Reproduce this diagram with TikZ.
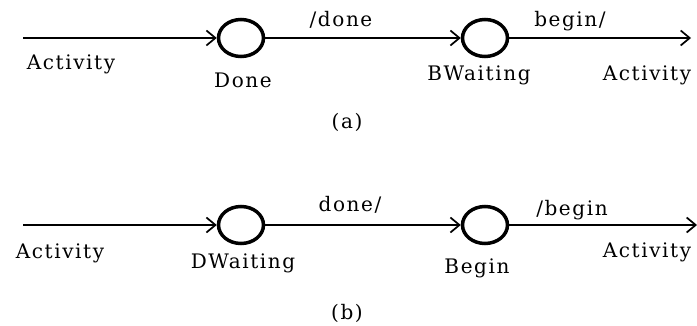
\documentclass[tikz,border=0pt]{standalone}
\usepackage{fontspec}
\setmainfont{DejaVu Serif}[LetterSpace=8]
\usepackage{tikz}
\usetikzlibrary{arrows.meta}
\usetikzlibrary{shapes.geometric}

\tikzset{
	state/.style={draw,ellipse,line width=3.5pt,minimum width=45pt,minimum height=37pt,inner sep=0pt},
	flow/.style={line width=1.7pt,-{Straight Barb[length=9pt,width=15pt,line width=1.7pt]}},
	lbl/.style={inner sep=0pt,font=\fontsize{20}{23}\selectfont}
}

\begin{document}
\begin{tikzpicture}[x=1pt,y=-1pt]
		\useasboundingbox (0,0) rectangle (697,326);
		% (a)
		\coordinate (ain) at (23,38);
		\node[state] (done) at (241,38) {};
		\node[state] (bwait) at (485,38) {};
		\coordinate (aout) at (691,38);
		\draw[flow] (ain) -- (done);
		\draw[flow] (done) -- (bwait);
		\draw[flow] (bwait) -- (aout);
		\node[lbl] (aact1) at (71,64) {Activity};
		\node[lbl] (ldone) at (243,80) {Done};
		\node[lbl] (evdone) at (341,20) {/done};
		\node[lbl] (lbwait) at (479,75) {BWaiting};
		\node[lbl] (evbegin) at (570,21) {begin/};
		\node[lbl] (aact2) at (647,75) {Activity};
		\node[lbl] (capa) at (347,122) {(a)};
		% (b)
		\coordinate (bin) at (23,225);
		\node[state] (dwait) at (241,225) {};
		\node[state] (begin) at (485,225) {};
		\coordinate (bout) at (697,225);
		\draw[flow] (bin) -- (dwait);
		\draw[flow] (dwait) -- (begin);
		\draw[flow] (begin) -- (bout);
		\node[lbl] (bact1) at (60,253) {Activity};
		\node[lbl] (ldwait) at (243,263) {DWaiting};
		\node[lbl] (evdone2) at (350,205) {done/};
		\node[lbl] (lbegin) at (477,268) {Begin};
		\node[lbl] (evbegin2) at (572,210) {/begin};
		\node[lbl] (bact2) at (647,252) {Activity};
		\node[lbl] (capb) at (347,313) {(b)};
	\end{tikzpicture}
\end{document}
